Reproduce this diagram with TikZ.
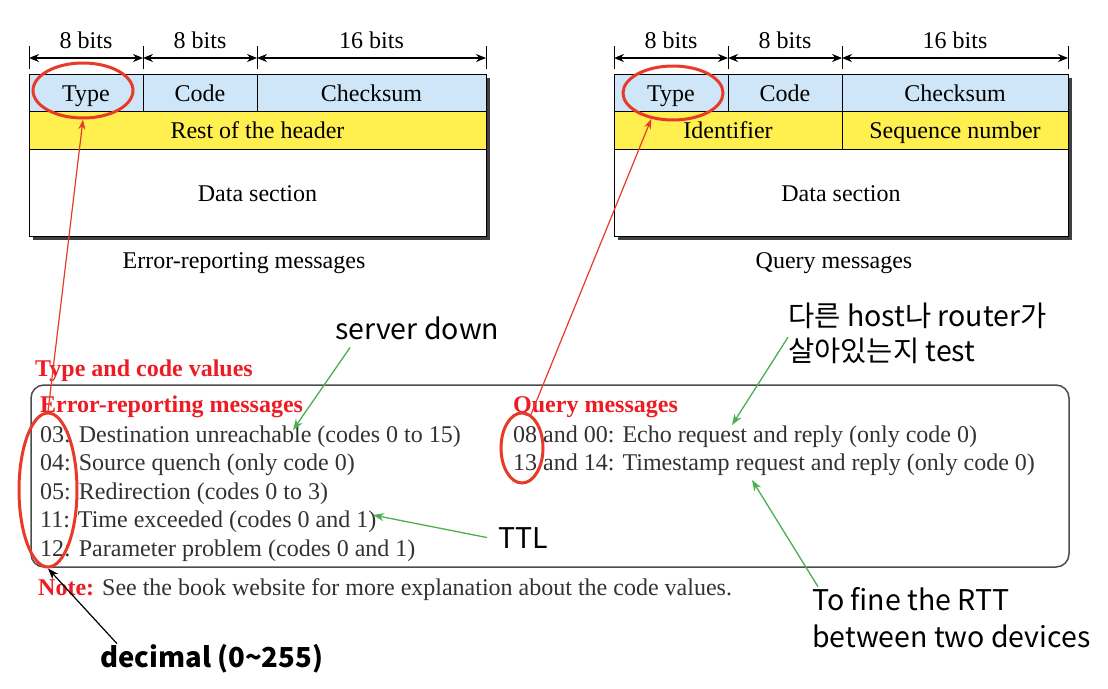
\documentclass[tikz,border=0pt]{standalone}
\usepackage{fontspec}
\setmainfont{Liberation Serif}
\newfontfamily\annofont{Noto Sans CJK KR}
\usetikzlibrary{arrows.meta,shapes.geometric}

\definecolor{hdrblue}{RGB}{206,230,247}
\definecolor{hdryellow}{RGB}{255,240,80}
\definecolor{markred}{RGB}{232,58,40}
\definecolor{titlered}{RGB}{237,28,36}
\definecolor{notegreen}{RGB}{76,175,80}
\definecolor{bodygray}{RGB}{50,50,50}

\tikzset{
  hcell/.style={draw=black, line width=1pt, inner sep=0pt, outer sep=0pt, anchor=north west,
    text height=17, text depth=0, font=\fontsize{24}{28}\selectfont},
  bitarrow/.style={{Stealth[length=10pt,width=8pt]}-{Stealth[length=10pt,width=8pt]}, line width=1.1pt},
  bitlabel/.style={midway, anchor=base, yshift=10, inner sep=0pt, font=\fontsize{24}{28}\selectfont},
  caption/.style={anchor=base, inner sep=0pt, font=\fontsize{24}{28}\selectfont},
  ring/.style={ellipse, draw=markred, line width=3pt, inner sep=0pt},
  redarrow/.style={-{Stealth[length=10pt,width=7pt]}, draw=markred, line width=1.2pt},
  greenarrow/.style={-{Stealth[length=11pt,width=8pt]}, draw=notegreen, line width=1.3pt},
  bodytext/.style={anchor=base west, inner sep=0pt, text=bodygray, font=\fontsize{24}{28}\selectfont},
  redhead/.style={anchor=base west, inner sep=0pt, text=titlered, font=\bfseries\fontsize{24}{28}\selectfont},
  anno/.style={anchor=base west, inner sep=0pt, font=\annofont\fontsize{28.5}{34}\selectfont},
}

\begin{document}
\begin{tikzpicture}[x=1pt,y=-1pt]
\fill[white] (0,0) rectangle (1108,688);
\useasboundingbox (0,0) rectangle (1108,688);

% error-reporting header
\fill[black!75] (33,78) rectangle (490,240);
\node[hcell, fill=hdrblue, minimum width=114, minimum height=37] (etype) at (29,74) {Type};
\node[hcell, fill=hdrblue, minimum width=114, minimum height=37] (ecode) at (etype.north east) {Code};
\node[hcell, fill=hdrblue, minimum width=229, minimum height=37] (ecksum) at (ecode.north east) {Checksum};
\node[hcell, fill=hdryellow, minimum width=457, minimum height=38] (erest) at (etype.south west) {Rest of the header};
\node[hcell, fill=white, minimum width=457, minimum height=87] (edata) at (erest.south west) {Data section};
\foreach \c in {etype.north west, ecode.north west, ecksum.north west, ecksum.north east}
  \draw[line width=1pt] ([yshift=5]\c) -- ([yshift=28]\c);
\draw[bitarrow] ([yshift=16]etype.north west) -- node[bitlabel]{8 bits} ([yshift=16]etype.north east);
\draw[bitarrow] ([yshift=16]ecode.north west) -- node[bitlabel]{8 bits} ([yshift=16]ecode.north east);
\draw[bitarrow] ([yshift=16]ecksum.north west) -- node[bitlabel]{16 bits} ([yshift=16]ecksum.north east);
\node[caption] (ecap) at (244,268) {Error-reporting messages};

% query header
\fill[black!75] (618,78) rectangle (1072,240);
\node[hcell, fill=hdrblue, minimum width=114, minimum height=37] (qtype) at (614,74) {Type};
\node[hcell, fill=hdrblue, minimum width=114, minimum height=37] (qcode) at (qtype.north east) {Code};
\node[hcell, fill=hdrblue, minimum width=226, minimum height=37] (qcksum) at (qcode.north east) {Checksum};
\node[hcell, fill=hdryellow, minimum width=228, minimum height=38] (qident) at (qtype.south west) {Identifier};
\node[hcell, fill=hdryellow, minimum width=226, minimum height=38] (qseq) at (qident.north east) {Sequence number};
\node[hcell, fill=white, minimum width=454, minimum height=87] (qdata) at (qident.south west) {Data section};
\foreach \c in {qtype.north west, qcode.north west, qcksum.north west, qcksum.north east}
  \draw[line width=1pt] ([yshift=5]\c) -- ([yshift=28]\c);
\draw[bitarrow] ([yshift=16]qtype.north west) -- node[bitlabel]{8 bits} ([yshift=16]qtype.north east);
\draw[bitarrow] ([yshift=16]qcode.north west) -- node[bitlabel]{8 bits} ([yshift=16]qcode.north east);
\draw[bitarrow] ([yshift=16]qcksum.north west) -- node[bitlabel]{16 bits} ([yshift=16]qcksum.north east);
\node[caption] (qcap) at (834,268) {Query messages};

% type and code values
\node[redhead] (tcv) at (35,376) {Type and code values};
\draw[line width=1.5pt, black!70, rounded corners=13] (31,385) rectangle (1069,567);
\node[redhead] (ehead) at (40,412) {Error-reporting messages};
\node[bodytext] (e03) at (40,442) {03: Destination unreachable (codes 0 to 15)};
\node[bodytext] (e04) at (40,470.5) {04: Source quench (only code 0)};
\node[bodytext] (e05) at (40,499) {05: Redirection (codes 0 to 3)};
\node[bodytext] (e11) at (40,527.5) {11: Time exceeded (codes 0 and 1)};
\node[bodytext] (e12) at (40,556) {12: Parameter problem (codes 0 and 1)};
\node[redhead] (qhead) at (513,412) {Query messages};
\node[bodytext] (q08) at (513,442) {08 and 00: Echo request and reply (only code 0)};
\node[bodytext] (q13) at (513,470.5) {13 and 14: Timestamp request and reply (only code 0)};
\node[bodytext] (note) at (38,595) {\textcolor{titlered}{\bfseries Note:} See the book website for more explanation about the code values.};

% red marks
\node[ring, minimum width=100, minimum height=55] (etypering) at (83,90.5) {};
\node[ring, minimum width=100, minimum height=54] (qtypering) at (673,93) {};
\node[ring, minimum width=58, minimum height=154] (ecodering) at (48,490) {};
\node[ring, minimum width=42, minimum height=70] (qcodering) at (522,448) {};
\draw[redarrow] (ecodering.north) -- (etypering.south);
\draw[redarrow] (qcodering.75) -- (qtypering.230);

% notes
\node[anno] (srvdown) at (335,339) {server down};
\node[anno] (ttl) at (498,548) {TTL};
\node[anno] (alive1) at (788,326) {다른 host나 router가};
\node[anno] (alive2) at (788,361) {살아있는지 test};
\node[anno] (rtt1) at (812,610) {To fine the RTT};
\node[anno] (rtt2) at (812,647) {between two devices};
\node[anno, font=\annofont\bfseries\fontsize{27.5}{34}\selectfont] (decimal) at (100,667) {decimal (0\textasciitilde255)};
\coordinate (unreach) at (293,430);
\coordinate (timeex) at (373,515);
\coordinate (echo) at (732,425);
\coordinate (stamp) at (752,480);
\draw[greenarrow] ([xshift=15,yshift=-8]srvdown.south west) -- (unreach);
\draw[greenarrow] ([xshift=-11]ttl.west) -- (timeex);
\draw[greenarrow] (alive2.north west) -- (echo);
\draw[greenarrow] ([xshift=6]rtt1.north west) -- (stamp);
\draw[-{Stealth[length=11pt,width=8pt]}, line width=1.2pt] ([xshift=17]decimal.north west) -- (ecodering.south);
\end{tikzpicture}
\end{document}
